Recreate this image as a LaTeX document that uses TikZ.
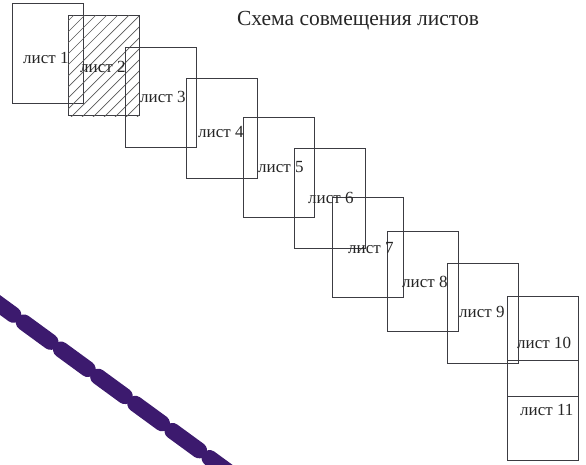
\documentclass[tikz,border=0pt]{standalone}
\usepackage{fontspec}
\setmainfont{Liberation Serif}
\definecolor{beadcol}{RGB}{60,26,110}
\definecolor{edgecol}{RGB}{60,60,66}
\begin{document}
\begin{tikzpicture}[x=1pt,y=-1pt,
  sheet/.style={draw=edgecol,line width=0.8pt,inner sep=0pt,outer sep=0pt,
    minimum width=71pt,minimum height=100pt},
  lbl/.style={inner sep=0pt,anchor=west,font=\fontsize{17}{20}\selectfont,text=black!85},
  ttl/.style={inner sep=0pt,font=\fontsize{21.5}{25}\selectfont,text=black!85},
  hatch/.style={draw=black!65,line width=0.7pt},
  beadline/.style={draw=beadcol,line width=16pt,line cap=round,
    dash pattern=on 33pt off 13pt,dash phase=4.1pt}]
\fill[white] (0,0) rectangle (586,464);
\useasboundingbox (0,0) rectangle (586,464);
% sheets
\node[sheet] (s1) at (47.5,53) {};
\node[sheet] (s2) at (103.5,65.5) {};
\begin{scope}
  \clip (68,15) rectangle (139,116);
  \foreach \i in {-121,-110,...,80} \draw[hatch] (68+\i,120) -- ++(115,-115);
\end{scope}
\node[sheet] (s3) at (161,97) {};
\node[sheet] (s4) at (222,128) {};
\node[sheet] (s5) at (278.5,167.5) {};
\node[sheet] (s6) at (329.5,198.5) {};
\node[sheet] (s7) at (368,247.5) {};
\node[sheet] (s8) at (422.5,281.5) {};
\node[sheet] (s9) at (483,313.5) {};
\node[sheet] (s10) at (543,346) {};
\node[sheet] (s11) at (543,410) {};
% labels
\node[lbl] (l1) at (23,58) {лист 1};
\node[lbl] (l2) at (80,67) {лист 2};
\node[lbl] (l3) at (140,97) {лист 3};
\node[lbl] (l4) at (198,132) {лист 4};
\node[lbl] (l5) at (258,167) {лист 5};
\node[lbl] (l6) at (308,198) {лист 6};
\node[lbl] (l7) at (348,248) {лист 7};
\node[lbl] (l8) at (402,282) {лист 8};
\node[lbl] (l9) at (459,312) {лист 9};
\node[lbl] (l10) at (517,343) {лист 10};
\node[lbl] (l11) at (520,410) {лист 11};
\node[ttl] (title) at (358,21) {Схема совмещения листов};
% decorative bead line
\coordinate (pa) at (-10,297.7);
\coordinate (pb) at (235,476.6);
\begin{scope}
  \clip (0,0) rectangle (586,464);
  \draw[beadline] (pa) -- (pb);
\end{scope}
\end{tikzpicture}
\end{document}
